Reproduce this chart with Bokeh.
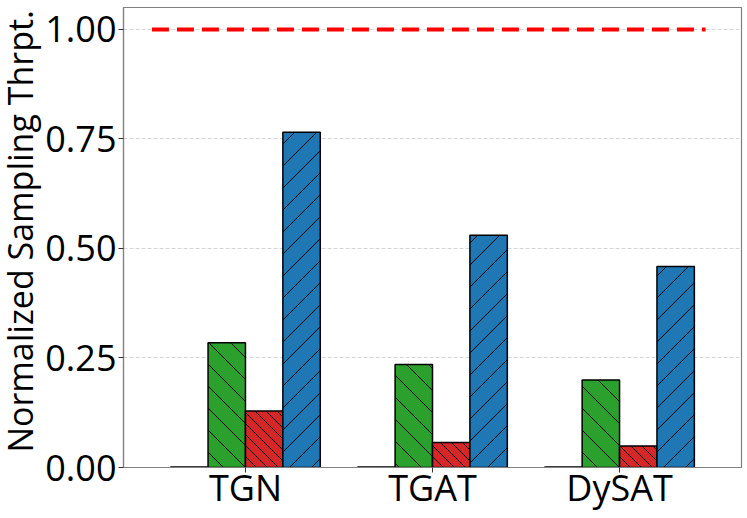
import math
from bokeh.plotting import figure
from bokeh.layouts import row
from bokeh.models import Range1d, FixedTicker, ColumnDataSource
from bokeh.core.properties import value
from bokeh.embed import file_html
from bokeh.resources import INLINE

# ---- data ----
groups = ["TGN", "TGAT", "DySAT"]
series_names = ["s0", "s1", "s2", "s3"]
s0_vals = [0.001, 0.001, 0.001]
s1_vals = [0.285, 0.235, 0.200]
s2_vals = [0.129, 0.057, 0.049]
s3_vals = [0.765, 0.530, 0.459]
baseline = 1.0
y_ticks = [0.0, 0.25, 0.50, 0.75, 1.00]
y_tick_labels = ["0.00", "0.25", "0.50", "0.75", "1.00"]
y_label = "Normalized Sampling Thrpt."

# ---- style ----
colors = ["#ff7f0e", "#2ca02c", "#d62728", "#1f77b4"]
hatch_dir = [None, "back", "back", "fwd"]
hatch_gap = [None, 22, 11, 22]     # vertical spacing of hatch lines in px
offsets = [-0.3, -0.1, 0.1, 0.3]
bar_w = 0.2
FONT = "Open Sans"

W, H = 747, 518
LW = 42                      # width of the strip holding the y-axis title
BL, BR, BT, BB = 81, 6, 7, 51
X0, X1 = -0.652, 2.652
Y0, Y1 = 0.0, 1.05
frame_w = W - LW - BL - BR
frame_h = H - BT - BB
px_x = frame_w / (X1 - X0)
px_y = frame_h / (Y1 - Y0)

p = figure(width=W - LW, height=H, output_backend="svg", toolbar_location=None,
           x_range=Range1d(X0, X1), y_range=Range1d(Y0, Y1),
           min_border_left=BL, min_border_right=BR, min_border_top=BT, min_border_bottom=BB)


def hatch_segments(left, right, top, direction, gap):
    """45-degree (on screen) hatch lines clipped to the bar rectangle."""
    ax0, ax1 = left * px_x, right * px_x
    ay0, ay1 = 0.0, top * px_y
    xs0, ys0, xs1, ys1 = [], [], [], []
    if direction == "fwd":      # Y = X + c
        kmin = math.ceil((ay0 - ax1) / gap)
        kmax = math.floor((ay1 - ax0) / gap)
        for k in range(kmin, kmax + 1):
            c = k * gap
            a = max(ax0, ay0 - c)
            b = min(ax1, ay1 - c)
            if b > a:
                xs0.append(a / px_x); ys0.append((a + c) / px_y)
                xs1.append(b / px_x); ys1.append((b + c) / px_y)
    else:                       # Y = -X + c
        kmin = math.ceil((ax0 + ay0) / gap)
        kmax = math.floor((ax1 + ay1) / gap)
        for k in range(kmin, kmax + 1):
            c = k * gap
            a = max(ax0, c - ay1)
            b = min(ax1, c - ay0)
            if b > a:
                xs0.append(a / px_x); ys0.append((c - a) / px_y)
                xs1.append(b / px_x); ys1.append((c - b) / px_y)
    return xs0, ys0, xs1, ys1


xs = list(range(len(groups)))
all_vals = [s0_vals, s1_vals, s2_vals, s3_vals]
for vals, c, hd, hg, off in zip(all_vals, colors, hatch_dir, hatch_gap, offsets):
    bx = [i + off for i in xs]
    p.vbar(x=bx, top=vals, width=bar_w, bottom=0,
           fill_color=c, line_color=None)
    if hd is not None:
        seg = dict(x0=[], y0=[], x1=[], y1=[])
        for x, v in zip(bx, vals):
            a0, b0, a1, b1 = hatch_segments(x - bar_w / 2, x + bar_w / 2, v, hd, hg)
            seg["x0"] += a0; seg["y0"] += b0; seg["x1"] += a1; seg["y1"] += b1
        p.segment(x0="x0", y0="y0", x1="x1", y1="y1", source=ColumnDataSource(seg),
                  line_color="black", line_width=1)
    p.vbar(x=bx, top=vals, width=bar_w, bottom=0,
           fill_color=None, line_color="black", line_width=1.5)

p.line(x=[-0.5, 2.46], y=[baseline, baseline], line_color="red", line_width=4,
       line_dash="17 8")

# axes
p.xaxis.ticker = FixedTicker(ticks=xs)
p.xaxis.major_label_overrides = {i: g for i, g in zip(xs, groups)}
p.yaxis.ticker = FixedTicker(ticks=y_ticks)
p.yaxis.major_label_overrides = {t: l for t, l in zip(y_ticks, y_tick_labels)}

for ax in (p.xaxis, p.yaxis):
    ax.major_label_text_font = FONT
    ax.major_label_text_font_size = "36px"
    ax.major_label_text_color = "black"
    ax.axis_line_color = "#808080"
    ax.axis_line_width = 1.2
    ax.major_tick_line_color = "#333333"
    ax.major_tick_out = 5
    ax.major_tick_in = 0
    ax.minor_tick_line_color = None
    ax.major_label_standoff = 2
p.xaxis.major_label_standoff = -10

p.xgrid.grid_line_color = None
p.ygrid.grid_line_color = "#d6d6d6"
p.ygrid.grid_line_dash = "4 2"
p.ygrid.grid_line_width = 1

p.outline_line_color = "#808080"
p.outline_line_width = 1.2
p.background_fill_color = "white"
p.border_fill_color = "white"

# strip on the left with the rotated y-axis title
lab = figure(width=LW, height=H, output_backend="svg", toolbar_location=None,
             x_range=Range1d(0, LW), y_range=Range1d(0, H),
             x_axis_type=None, y_axis_type=None,
             min_border_left=0, min_border_right=0, min_border_top=0, min_border_bottom=0)
lab.outline_line_color = None
lab.xgrid.grid_line_color = None
lab.ygrid.grid_line_color = None
lab.background_fill_color = "white"
lab.border_fill_color = "white"
lab.text(x=[19], y=[H - 252], text=[y_label], angle=math.pi / 2,
         text_align="center", text_baseline="alphabetic",
         text_font=value(FONT), text_font_size="34px", text_color="black")

layout = row(lab, p, spacing=0)
open("out.html", "w").write(file_html(layout, INLINE))
